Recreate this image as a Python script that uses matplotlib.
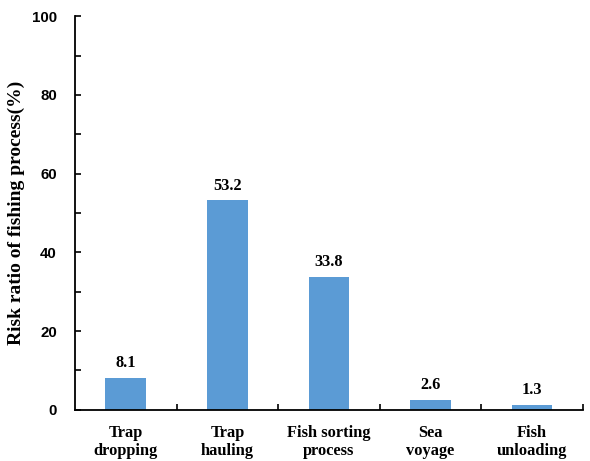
import matplotlib
matplotlib.use("Agg")
import matplotlib.pyplot as plt
from matplotlib.ticker import MultipleLocator

categories = ["Trap\ndropping", "Trap\nhauling", "Fish sorting\nprocess", "Sea\nvoyage", "Fish\nunloading"]
values = [8.1, 53.2, 33.8, 2.6, 1.3]
yticks = [0, 20, 40, 60, 80, 100]

fig = plt.figure(figsize=(5.9, 4.61), dpi=100)
ax = fig.add_axes([0.127, 0.111, 0.861, 0.854])

x = list(range(len(categories)))
bars = ax.bar(x, values, width=0.4, color="#5B9BD5", zorder=2)

for xi, v in zip(x, values):
    ax.text(xi, v + 1.7, f"{v}", ha="center", va="bottom",
            family="Liberation Serif", fontweight="bold", fontsize=11.8)

ax.set_xlim(-0.5, len(categories) - 0.5)
ax.set_ylim(0, 100)
ax.set_yticks(yticks)
ax.yaxis.set_minor_locator(MultipleLocator(10))
ax.set_yticklabels([str(t) for t in yticks], family="Liberation Sans",
                   fontweight="bold", fontsize=10.8)

# category ticks sit between bars
ax.set_xticks([i + 0.5 for i in x])
ax.set_xticklabels([])
ax.set_xticks(x, minor=True)
ax.set_xticklabels(categories, minor=True, family="Liberation Serif",
                   fontweight="bold", fontsize=11.8, linespacing=1.15)
ax.tick_params(axis="x", which="minor", length=0, pad=11)
ax.tick_params(axis="x", which="major", direction="in", length=4, width=1.2)
ax.tick_params(axis="y", which="both", direction="in", length=4, width=1.2, pad=13)

for s in ["top", "right"]:
    ax.spines[s].set_visible(False)
for s in ["left", "bottom"]:
    ax.spines[s].set_linewidth(1.3)

ax.set_ylabel("Risk ratio of fishing process(%)", family="Liberation Serif",
              fontweight="bold", fontsize=14, labelpad=5)

fig.savefig("out.png", dpi=100)
